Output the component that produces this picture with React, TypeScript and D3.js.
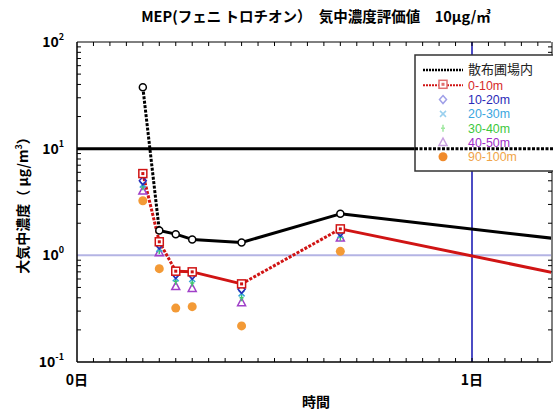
import React from "react";
import * as d3 from "d3";

const hours = [4, 5, 6, 7, 10, 16, 48];
const fieldIn = [37.6, 1.71, 1.58, 1.41, 1.32, 2.45, 0.66];
const m0_10 = [5.84, 1.34, 0.71, 0.7, 0.54, 1.77, 0.171];
const ptHours = [4, 5, 6, 7, 10, 16];
const m10_20 = [5.0, 1.25, 0.66, 0.65, 0.48, 1.64];
const m20_30 = [4.6, 1.15, 0.61, 0.6, 0.44, 1.55];
const m30_40 = [4.4, 1.11, 0.57, 0.55, 0.4, 1.48];
const m40_50 = [4.0, 1.06, 0.51, 0.49, 0.36, 1.45];
const m90_100 = [3.25, 0.75, 0.32, 0.33, 0.218, 1.09];
const legendLabels = ["散布圃場内", "0-10m", "10-20m", "20-30m", "30-40m", "40-50m", "90-100m"];
const yTickExps = [-1, 0, 1, 2];
const xDayLabels = ["0日", "1日"];
const refHigh = 10;
const refLow = 1;

const FONT = "'Noto Sans CJK JP', 'Noto Sans', sans-serif";
const LATIN = "'Liberation Sans', Arial, sans-serif";

export default function App() {
  const L = 77, R = 551, T = 42, B = 362;
  const x = d3.scaleLinear().domain([0, 28.8]).range([L, R]);
  const y = d3.scaleLog().domain([0.1, 100]).range([B, T]);

  const segs = (xs: number[], vs: number[], color: string, key: string) => {
    const out: JSX.Element[] = [];
    for (let i = 0; i < xs.length - 1; i++) {
      const x1 = x(xs[i]), y1 = y(vs[i]), x2 = x(xs[i + 1]), y2 = y(vs[i + 1]);
      const ang = Math.abs(Math.atan2(y2 - y1, x2 - x1)) * 180 / Math.PI;
      out.push(
        <line key={key + i} x1={x1} y1={y1} x2={x2} y2={y2} stroke={color} strokeWidth={3}
          strokeDasharray={ang > 20 ? "3,1.5" : undefined} />
      );
    }
    return out;
  };

  const hourTicks = d3.range(1, 29);
  const minorVals: number[] = [];
  for (const e of [-1, 0, 1]) for (let k = 2; k <= 9; k++) minorVals.push(k * Math.pow(10, e));

  const diamond = (cx: number, cy: number, c: string, k: string) => (
    <path key={k} d={`M${cx},${cy - 4}L${cx + 3.5},${cy}L${cx},${cy + 4}L${cx - 3.5},${cy}Z`} fill="none" stroke={c} strokeWidth={1.5} />
  );
  const cross = (cx: number, cy: number, c: string, k: string) => (
    <path key={k} d={`M${cx - 3},${cy - 3}L${cx + 3},${cy + 3}M${cx - 3},${cy + 3}L${cx + 3},${cy - 3}`} stroke={c} strokeWidth={1.5} />
  );
  const vbar = (cx: number, cy: number, c: string, k: string) => (
    <path key={k} d={`M${cx},${cy - 3.5}L${cx},${cy + 3.5}M${cx - 2},${cy}L${cx + 2},${cy}`} stroke={c} strokeWidth={1.5} />
  );
  const tri = (cx: number, cy: number, c: string, k: string) => (
    <path key={k} d={`M${cx},${cy - 4.5}L${cx + 4},${cy + 3}L${cx - 4},${cy + 3}Z`} fill="none" stroke={c} strokeWidth={1.5} />
  );
  const square = (cx: number, cy: number, c: string, k: string) => (
    <g key={k}>
      <rect x={cx - 4} y={cy - 4} width={8} height={8} fill="white" stroke={c} strokeWidth={1.5} />
      <rect x={cx - 1.5} y={cy - 1.5} width={3} height={3} fill={c} />
    </g>
  );
  const circ = (cx: number, cy: number, c: string, k: string) => (
    <circle key={k} cx={cx} cy={cy} r={3.5} fill="white" stroke={c} strokeWidth={1.5} />
  );
  const dot = (cx: number, cy: number, c: string, k: string) => (
    <circle key={k} cx={cx} cy={cy} r={4.5} fill={c} />
  );

  const pointSeries: [number[], string, typeof dot][] = [
    [m90_100, "#f39a36", dot],
    [m40_50, "#a040c8", tri],
    [m30_40, "#3cc86c", vbar],
    [m20_30, "#3aa6d8", cross],
    [m10_20, "#2a2ab8", diamond],
  ];

  const legColors = ["#222", "#d62a2a", "#2a2ab8", "#3aa6e0", "#3cc83c", "#a030c8", "#f0a448"];
  const legMarkColors = ["#000", "#d01818", "#a0a0e8", "#9ad0ee", "#a0e8a0", "#c8a0e0", "#f08a2a"];
  const lx = 415, ly = 55, lw = 140, lh = 116;

  return (
    <svg width={553} height={416} style={{ display: "block", position: "absolute", left: 0, top: 0 }} fontFamily={FONT}>
      <defs>
        <clipPath id="plot"><rect x={L} y={T} width={R - L} height={B - T} /></clipPath>
      </defs>
      <rect x={0} y={0} width={553} height={416} fill="white" />
      <text x={316} y={22} textAnchor="middle" fontSize={14.5} fontWeight="bold">MEP(フェニ トロチオン）　気中濃度評価値　10μg/㎥</text>

      {/* reference lines */}
      <line x1={L} x2={R} y1={y(refLow)} y2={y(refLow)} stroke="#b4b4e4" strokeWidth={2} />
      <line x1={x(24)} x2={x(24)} y1={T} y2={B} stroke="#1010b0" strokeWidth={1.5} />
      <line x1={L} x2={R} y1={y(refHigh)} y2={y(refHigh)} stroke="#000" strokeWidth={3} />

      {/* axes */}
      <line x1={L} x2={L} y1={T} y2={B} stroke="#000" strokeWidth={1.5} />
      <line x1={L} x2={R} y1={B} y2={B} stroke="#000" strokeWidth={1.5} />
      <line x1={L} x2={R} y1={T} y2={T} stroke="#000" strokeWidth={1} />
      <line x1={R + 1} x2={R + 1} y1={T} y2={B} stroke="#000" strokeWidth={1} />
      {hourTicks.map(h => (
        <g key={"ht" + h}>
          <line x1={x(h)} x2={x(h)} y1={B} y2={B - 4} stroke="#000" strokeWidth={1} />
          <line x1={x(h)} x2={x(h)} y1={T} y2={T + 4} stroke="#000" strokeWidth={1} />
        </g>
      ))}
      {minorVals.map(v => (
        <g key={"mv" + v}>
          <line x1={L} x2={L + 4} y1={y(v)} y2={y(v)} stroke="#000" strokeWidth={1} />
          <line x1={R + 1} x2={R - 3} y1={y(v)} y2={y(v)} stroke="#000" strokeWidth={1} />
        </g>
      ))}
      {yTickExps.map(e => (
        <text key={"yt" + e} x={64} y={y(Math.pow(10, e)) + 5} textAnchor="end" fontSize={14} fontWeight="bold">
          10<tspan dy={-7} fontSize={9}>{e}</tspan>
        </text>
      ))}
      {xDayLabels.map((t, i) => (
        <text key={"xd" + i} x={x(i * 24)} y={385} textAnchor="middle" fontSize={14} fontWeight="bold">{t}</text>
      ))}
      <text x={316} y={407} textAnchor="middle" fontSize={14} fontWeight="bold">時間</text>
      <text transform={`translate(28,${(T + B) / 2}) rotate(-90)`} textAnchor="middle" fontSize={14} fontWeight="bold">
        大気中濃度（ μg/m<tspan dy={-6} fontSize={9}>3</tspan><tspan dy={6}>）</tspan>
      </text>

      <g clipPath="url(#plot)">
        {segs(hours, fieldIn, "#000", "b")}
        {segs(hours, m0_10, "#d01414", "r")}
        {pointSeries.map(([vals, c, fn], si) => ptHours.map((h, i) => fn(x(h), y(vals[i]), c, "p" + si + "_" + i)))}
        {hours.map((h, i) => square(x(h), y(m0_10[i]), "#d01414", "sq" + i))}
        {hours.map((h, i) => circ(x(h), y(fieldIn[i]), "#000", "c" + i))}
      </g>

      {/* legend */}
      <rect x={lx} y={ly} width={lw} height={lh} fill="white" stroke="#333" strokeWidth={1.5} />
      <line x1={lx} x2={553} y1={y(refHigh)} y2={y(refHigh)} stroke="#000" strokeWidth={3} strokeDasharray="3,1.5" />
      {legendLabels.map((lab, i) => {
        const cy = i === 0 ? 69 : 71 + i * 14.3;
        const mx = 443;
        let mark: JSX.Element | null = null;
        if (i === 0) mark = <g><line x1={423} x2={463} y1={cy + 1} y2={cy + 1} stroke="#000" strokeWidth={2.5} strokeDasharray="2,1" /></g>;
        else if (i === 1) mark = <g><line x1={423} x2={463} y1={cy} y2={cy} stroke="#d01414" strokeWidth={2} strokeDasharray="2,1" />{square(mx, cy - 1, "#e07070", "lsq")}</g>;
        else if (i === 2) mark = diamond(mx, cy, legMarkColors[i], "ld");
        else if (i === 3) mark = cross(mx, cy, legMarkColors[i], "lc");
        else if (i === 4) mark = vbar(mx, cy, legMarkColors[i], "lv");
        else if (i === 5) mark = tri(mx, cy, legMarkColors[i], "lt");
        else mark = dot(mx, cy, legMarkColors[i], "lo");
        return (
          <g key={"lg" + i}>
            {mark}
            <text x={468} y={cy + (i === 0 ? 5 : 4.5)} fontSize={i === 0 ? 13 : 12.4}
              fontFamily={i === 0 ? FONT : LATIN} fill={legColors[i]}>{lab}</text>
          </g>
        );
      })}
    </svg>
  );
}
